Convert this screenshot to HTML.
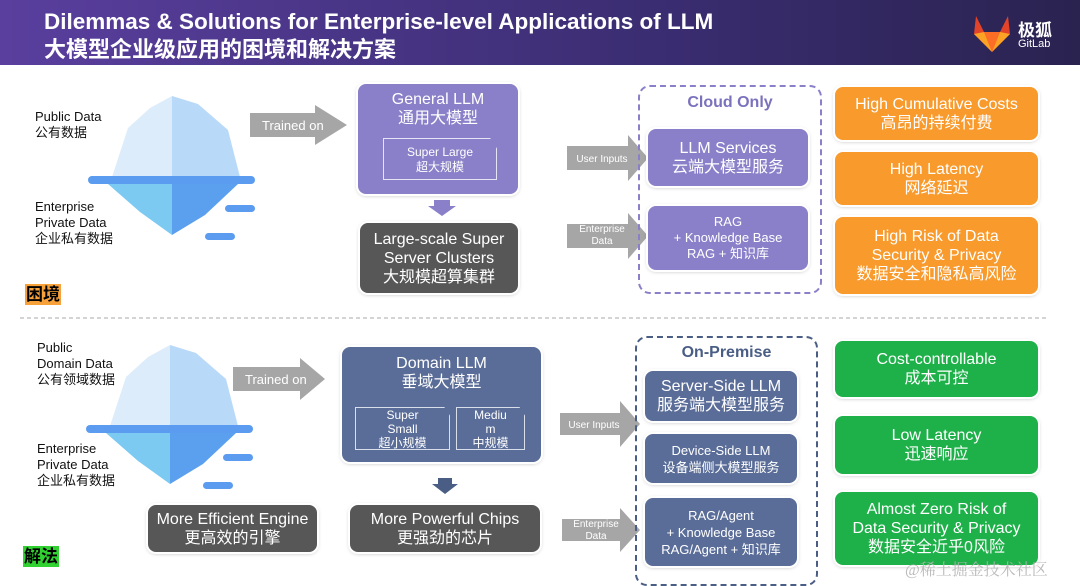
<!DOCTYPE html>
<html><head><meta charset="utf-8"><style>
*{margin:0;padding:0;box-sizing:border-box}
body{width:1080px;height:581px;overflow:hidden;background:#fff;font-family:"Liberation Sans","Noto Sans CJK SC",sans-serif;position:relative}
.a{position:absolute}
.hdr{left:0;top:0;width:1080px;height:65px;background:linear-gradient(90deg,#5a3f9e,#3b2d72 60%,#2a2350)}
.t{color:#fff;font-weight:bold;font-size:22px;left:44px;white-space:nowrap}
.lbl{font-size:13px;color:#111;line-height:16px}
.box{display:flex;flex-direction:column;align-items:center;justify-content:center;text-align:center;color:#fff;border-radius:8px;box-shadow:0 0 0 2px #fff,0 1px 5px rgba(0,0,0,.35);line-height:19px;font-size:16px}
.pur{background:#8a80c9}
.nav{background:#5a6d98}
.gry{background:#575757}
.org{background:#f89a2c}
.grn{background:#1eb14a}
.dash{border:2px dashed;border-radius:12px}
.sm{font-size:12px;line-height:15px}
</style></head><body>
<div class="a hdr"></div>
<div class="a t" style="top:9px;font-size:22.5px">Dilemmas &amp; Solutions for Enterprise-level Applications of LLM</div>
<div class="a t" style="top:32px;font-size:22px">大模型企业级应用的困境和解决方案</div>
<svg class="a" style="left:972px;top:14px" width="40" height="40" viewBox="0 0 40 40"><polygon points="4,2 12,18 28,18 36,2 38,20 20,38 2,20" fill="#e24329"/><polygon points="12,18 28,18 20,38" fill="#fc6d26"/><polygon points="2,20 12,18 20,38" fill="#fca326"/><polygon points="38,20 28,18 20,38" fill="#fca326"/></svg>
<div class="a" style="left:1018px;top:16px;color:#fff;font-size:17px;font-weight:bold">极狐</div>
<div class="a" style="left:1018px;top:38px;color:#fff;font-size:11px">GitLab</div>

<svg class="a" style="left:0;top:0" width="1080" height="581">
<g id="ice">
<polygon points="112,177 128,128 150,108 172,96 172,177" fill="#dcecfb"/>
<polygon points="172,96 198,104 228,130 240,177 172,177" fill="#b9d9f8"/>
<polygon points="108,184 140,212 172,235 172,184" fill="#7ccaf1"/>
<polygon points="172,184 238,184 205,215 172,235" fill="#5aa0ef"/>
<rect x="88" y="176" width="167" height="8" rx="4" fill="#5b9bf0"/>
<rect x="225" y="205" width="30" height="7" rx="3.5" fill="#5b9bf0"/>
<rect x="205" y="233" width="30" height="7" rx="3.5" fill="#5b9bf0"/>
</g>
<use href="#ice" transform="translate(-2,249)"/>
<polygon points="250,113 315,113 315,105 347,125 315,145 315,137 250,137" fill="#a6a6a6"/>
<polygon points="233,367 300,367 300,358 325,379 300,400 300,391 233,391" fill="#a6a6a6"/>
<polygon points="567,146 628,146 628,135 648,158 628,181 628,170 567,170" fill="#a6a6a6"/>
<polygon points="567,224 628,224 628,213 648,236 628,259 628,248 567,248" fill="#a6a6a6"/>
<polygon points="560,413 620,413 620,401 640,424 620,447 620,435 560,435" fill="#a6a6a6"/>
<polygon points="562,519 620,519 620,508 640,530 620,552 620,541 562,541" fill="#a6a6a6"/>
<polygon points="434,200 450,200 450,206 456,206 442,216 428,206 434,206" fill="#8a80c9"/>
<polygon points="438,478 452,478 452,484 458,484 445,494 432,484 438,484" fill="#4a5d85"/>
<line x1="20" y1="318" x2="1048" y2="318" stroke="#aaa" stroke-dasharray="4,3"/>
</svg>
<div class="a" style="left:262px;top:118px;color:#fff;font-size:13px">Trained on</div>
<div class="a" style="left:245px;top:372px;color:#fff;font-size:13px">Trained on</div>
<div class="a sm" style="left:570px;top:152px;color:#fff;font-size:10px;width:64px;text-align:center">User Inputs</div>
<div class="a sm" style="left:570px;top:224px;color:#fff;font-size:10px;width:64px;text-align:center;line-height:12px">Enterprise<br>Data</div>
<div class="a sm" style="left:562px;top:418px;color:#fff;font-size:10px;width:64px;text-align:center">User Inputs</div>
<div class="a sm" style="left:564px;top:519px;color:#fff;font-size:10px;width:64px;text-align:center;line-height:12px">Enterprise<br>Data</div>

<div class="a lbl" style="left:35px;top:109px">Public Data<br>公有数据</div>
<div class="a lbl" style="left:35px;top:199px">Enterprise<br>Private Data<br>企业私有数据</div>
<div class="a lbl" style="left:37px;top:340px">Public<br>Domain Data<br>公有领域数据</div>
<div class="a lbl" style="left:37px;top:441px">Enterprise<br>Private Data<br>企业私有数据</div>

<div class="a box pur" style="left:358px;top:84px;width:160px;height:110px;justify-content:flex-start;padding-top:6px">General LLM<br>通用大模型</div>
<div class="a" style="left:383px;top:138px;width:114px;height:42px;border:1px solid #e6e3f5;color:#fff;font-size:12px;text-align:center;line-height:15px;padding-top:6px;clip-path:polygon(0 0,94% 0,100% 25%,100% 100%,0 100%)">Super Large<br>超大规模</div>
<div class="a box gry" style="left:360px;top:223px;width:158px;height:70px;font-size:16px">Large-scale Super<br>Server Clusters<br>大规模超算集群</div>
<div class="a" style="left:25px;top:284px;background:#f7a13b;font-weight:bold;font-size:17px;line-height:21px;padding:0 1px">困境</div>

<div class="a dash" style="left:638px;top:85px;width:184px;height:209px;border-color:#8a80c9"></div>
<div class="a" style="left:638px;top:94px;width:184px;text-align:center;color:#7b72bd;font-weight:bold;font-size:16px">Cloud Only</div>
<div class="a box pur" style="left:648px;top:129px;width:160px;height:57px">LLM Services<br>云端大模型服务</div>
<div class="a box pur sm" style="left:648px;top:206px;width:160px;height:64px;font-size:13px;line-height:16px">RAG<br>+ Knowledge Base<br>RAG + 知识库</div>

<div class="a box org" style="left:835px;top:87px;width:203px;height:53px">High Cumulative Costs<br>高昂的持续付费</div>
<div class="a box org" style="left:835px;top:152px;width:203px;height:53px">High Latency<br>网络延迟</div>
<div class="a box org" style="left:835px;top:217px;width:203px;height:77px">High Risk of Data<br>Security &amp; Privacy<br>数据安全和隐私高风险</div>

<div class="a box nav" style="left:342px;top:347px;width:199px;height:115px;justify-content:flex-start;padding-top:7px">Domain LLM<br>垂域大模型</div>
<div class="a" style="left:355px;top:407px;width:95px;height:43px;border:1px solid #d8deea;color:#fff;font-size:12px;text-align:center;line-height:14px;overflow:hidden;clip-path:polygon(0 0,94% 0,100% 20%,100% 100%,0 100%)">Super<br>Small<br>超小规模</div>
<div class="a" style="left:456px;top:407px;width:69px;height:43px;border:1px solid #d8deea;color:#fff;font-size:12px;text-align:center;line-height:14px;overflow:hidden;clip-path:polygon(0 0,92% 0,100% 20%,100% 100%,0 100%)">Mediu<br>m<br>中规模</div>
<div class="a box gry" style="left:148px;top:505px;width:169px;height:47px">More Efficient Engine<br>更高效的引擎</div>
<div class="a box gry" style="left:350px;top:505px;width:190px;height:47px">More Powerful Chips<br>更强劲的芯片</div>
<div class="a" style="left:23px;top:546px;background:#30d130;font-weight:bold;font-size:17px;line-height:21px;padding:0 1px">解法</div>

<div class="a dash" style="left:635px;top:336px;width:183px;height:250px;border-color:#4a5d85"></div>
<div class="a" style="left:635px;top:344px;width:183px;text-align:center;color:#4a5d85;font-weight:bold;font-size:16px">On-Premise</div>
<div class="a box nav" style="left:645px;top:371px;width:152px;height:50px">Server-Side LLM<br>服务端大模型服务</div>
<div class="a box nav sm" style="left:645px;top:434px;width:152px;height:49px;font-size:13px;line-height:17px">Device-Side LLM<br>设备端侧大模型服务</div>
<div class="a box nav sm" style="left:645px;top:498px;width:152px;height:68px;font-size:13px;line-height:17px">RAG/Agent<br>+ Knowledge Base<br>RAG/Agent + 知识库</div>

<div class="a box grn" style="left:835px;top:341px;width:203px;height:56px">Cost-controllable<br>成本可控</div>
<div class="a box grn" style="left:835px;top:416px;width:203px;height:58px">Low Latency<br>迅速响应</div>
<div class="a box grn" style="left:835px;top:492px;width:203px;height:73px">Almost Zero Risk of<br>Data Security &amp; Privacy<br>数据安全近乎0风险</div>
<div class="a" style="left:905px;top:557px;color:rgba(180,180,180,.9);font-size:16px;font-family:'Liberation Serif','Noto Serif CJK SC',serif">@稀土掘金技术社区</div>
</body></html>
